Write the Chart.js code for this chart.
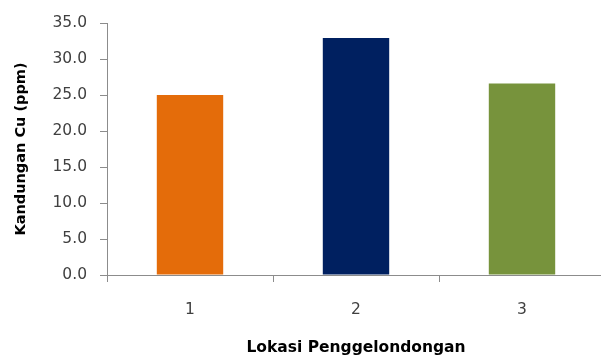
<!DOCTYPE html>
<html>
<head>
<meta charset="utf-8">
<script src="https://cdn.jsdelivr.net/npm/chart.js@4.4.0/dist/chart.umd.min.js"></script>
<style>
  html, body { margin: 0; padding: 0; background: #fff; overflow: hidden; }
  #wrap { width: 605px; height: 358px; }
</style>
</head>
<body>
<div id="wrap"><canvas id="c"></canvas></div>
<script>
// Copper content per logging location
const locations = ['1', '2', '3'];
const cuPpm = [25.0, 32.9, 26.6];
const barColors = ['#E46C0A', '#002060', '#77933C'];
const yTitle = 'Kandungan Cu (ppm)';
const xTitle = 'Lokasi Penggelondongan';

const axisGray = '#8C8C8C';
const textGray = '#404040';
const family = '"DejaVu Sans", "Open Sans", sans-serif';

new Chart(document.getElementById('c'), {
  type: 'bar',
  data: {
    labels: locations,
    datasets: [{
      data: cuPpm,
      backgroundColor: barColors,
      borderWidth: 0,
      categoryPercentage: 0.4,
      barPercentage: 1.0
    }]
  },
  options: {
    responsive: true,
    maintainAspectRatio: false,
    animation: false,
    layout: { padding: { top: 23, right: 0, bottom: 0, left: 0 } },
    plugins: { legend: { display: false }, tooltip: { enabled: false } },
    scales: {
      y: {
        min: 0, max: 35,
        ticks: {
          stepSize: 5,
          padding: 13,
          color: textGray,
          font: { family, size: 15.5 },
          callback: v => v.toFixed(1)
        },
        grid: { drawOnChartArea: false, drawTicks: true, tickLength: 7, color: axisGray },
        border: { color: axisGray, width: 1 },
        title: {
          display: true, text: yTitle, color: '#000',
          font: { family, size: 14.5, weight: 'bold' },
          padding: { top: 13, bottom: 0 }
        },
        afterFit: s => { s.width = 107; }
      },
      x: {
        ticks: { padding: 19, color: textGray, font: { family, size: 15.5 } },
        grid: { drawOnChartArea: false, drawTicks: true, tickLength: 7, color: axisGray, offset: true },
        border: { color: axisGray, width: 1 },
        title: {
          display: true, text: xTitle, color: '#000',
          font: { family, size: 15.5, weight: 'bold' },
          padding: { top: 0, bottom: 1 }
        },
        afterFit: s => { s.height = 83; }
      }
    }
  }
});
</script>
</body>
</html>
